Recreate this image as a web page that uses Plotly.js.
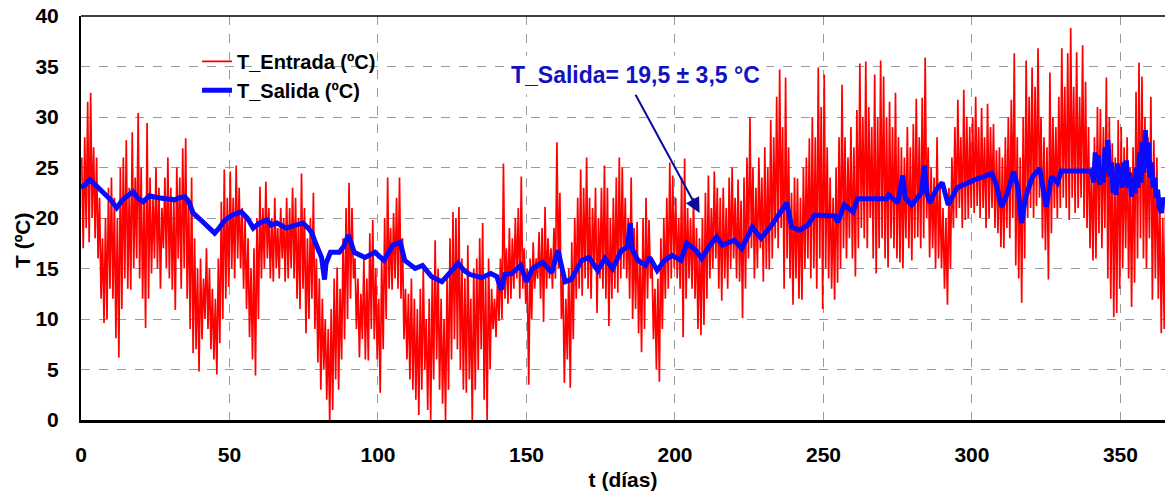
<!DOCTYPE html>
<html>
<head>
<meta charset="utf-8">
<script src="https://cdn.plot.ly/plotly-3.0.1.min.js"></script>
<style>
  html, body { margin: 0; padding: 0; background: #ffffff; }
  #grafico { width: 1165px; height: 493px; }
</style>
</head>
<body>
<div id="grafico"></div>
<script>
// Temperatura de entrada: máximo y mínimo de cada día (día 0 .. 365)
const entradaMax = [
  26, 28, 31.5, 32.4, 27, 26, 22, 18, 20, 23,
  24, 22, 20, 25, 26, 27.7, 23, 28.5, 24, 30.4,
  25, 22, 29.4, 24, 22, 25, 23, 21, 24, 26,
  23, 22, 25, 24, 26.9, 27.9, 22, 24, 18, 15,
  16, 14, 17, 15, 13, 12, 16, 21.6, 24.8, 22,
  24.6, 22, 25.2, 23, 21, 20, 18, 15, 17, 20,
  23.1, 21, 23.6, 21, 20, 22, 19, 21, 20, 22,
  21, 23, 22, 20, 24.4, 21, 18, 20, 22.5, 16,
  14, 12, 10, 9, 11, 14, 15.1, 13, 18, 21,
  23.5, 21, 16, 14, 12.5, 16, 14, 18.5, 19.8, 15,
  12, 16, 20, 24, 19, 20.5, 22, 24, 18, 13,
  12.5, 14, 12, 11, 13, 15, 10, 12, 14, 17.8,
  15, 12, 10, 14, 18, 20.6, 20, 21.1, 16, 14,
  17.3, 12, 15, 16, 18, 19.5, 14, 16, 13, 12,
  14, 16, 25.4, 17, 19, 18, 20, 21, 24.1, 17,
  15, 16, 17.6, 16, 18.6, 19, 21.1, 18, 17, 19,
  27.5, 22.5, 14, 12, 15, 17.6, 20, 22, 24.8, 23,
  26, 22, 21, 23, 20, 23, 25.2, 23, 20, 22,
  24, 26, 25, 22, 20, 24, 19, 19.6, 16, 20,
  22, 19.8, 16, 13, 14, 18, 20, 22, 25.5, 24.2,
  22, 20, 24, 25.9, 21, 20, 22, 19, 18, 20,
  22.5, 24.2, 21, 24.6, 23, 22, 23, 21, 24, 25,
  22, 23.8, 21.7, 24, 26, 30, 25, 23, 26, 24,
  27, 25, 29.7, 28, 32, 34.7, 29, 33.9, 27, 22.5,
  24, 23.9, 22, 25, 26, 27.9, 30, 28, 34.9, 31,
  34.2, 27, 24, 22, 25, 28, 33.2, 28, 26, 29,
  27, 30.7, 35.3, 30, 35.5, 31, 29, 34.2, 30, 35.6,
  34, 30, 31.5, 29, 32.4, 28, 27, 26, 29, 27,
  29.3, 31.8, 28, 31.9, 35.9, 27, 25, 24, 28, 23,
  21, 20, 23, 26, 29, 31.7, 28, 32.7, 30, 29,
  30, 32, 29, 30.9, 28, 31.3, 29, 29.3, 26.7, 27,
  26, 28, 30, 31.7, 36.3, 28, 26, 30, 35.6, 32,
  34.9, 33, 36.8, 30, 28, 27, 34.4, 30, 29, 32,
  36.8, 33, 36.3, 38.8, 33, 36.4, 32, 37.1, 33.5, 29,
  25, 28, 31, 30.8, 29, 33.9, 30, 27.4, 26, 29.7,
  29, 27, 28, 25, 27, 32.5, 35.4, 34, 30, 28,
  32, 27.7, 26, 22, 20, 22
];
const entradaMin = [
  17, 19, 17.6, 20, 18, 16, 12, 9.6, 10, 13,
  12, 8.1, 6.2, 11, 14, 13, 12.9, 15, 16, 14,
  12, 9.1, 12, 14.5, 16, 15, 13, 17, 15, 14,
  12.9, 10.9, 16, 13, 15, 12, 9, 6.6, 7, 4.8,
  8, 10, 9, 7, 6, 4.5, 7.6, 10, 12, 13.2,
  15, 14, 16, 15, 13, 11, 8.2, 6, 4.4, 10,
  14, 15, 16, 14, 13.7, 15, 14, 16, 13.7, 14,
  15, 14, 12, 11, 13, 8.6, 10, 12, 9, 5.7,
  3, 5, 2, -0.2, 1, 4, 3, 6, 8, 10,
  12, 14, 9, 6.2, 8, 6, 5.9, 9, 8, 6,
  2.7, 7, 10, 13, 12.9, 14, 13, 12, 8, 6,
  4, 3, 2, 0.5, 3, 5, 1, 0, 4, 6,
  3, 1.6, 0, 3, 6, 8, 7, 5, 3, 2.7,
  4, 0, 3, 5, 7, 2, 0, 5, 9, 8.2,
  9.8, 10, 12, 11.5, 12, 13, 14, 12, 13, 11.5,
  3.5, 10, 13, 14, 12, 9.7, 13, 14, 13, 14,
  15, 10, 3.7, 6, 3.2, 8, 12, 13, 12.3, 14,
  13, 12, 15, 10.6, 14, 13, 12, 9.3, 12, 13,
  12.6, 14, 15, 14, 12, 10, 11, 8.6, 6.7, 9,
  12, 14, 8, 5, 3.8, 9, 12, 13, 14, 15,
  14, 13, 8.2, 12, 14, 13, 12, 9, 8.4, 9.4,
  12, 14, 15, 16, 13, 11.8, 14, 13, 15, 16,
  14, 13.7, 10.1, 13, 16, 17, 14, 15, 17, 13.7,
  15, 14.9, 16, 18, 17, 19, 13, 16, 14, 11.4,
  14, 12, 11.9, 15, 16, 14, 15, 13, 16, 11,
  15, 14, 13, 11.9, 13.6, 15, 17, 16, 18, 16,
  14.2, 17, 19, 18, 17, 20, 16, 14.5, 17, 18,
  16, 15.1, 18, 17, 16, 15.6, 15, 18, 17, 15.8,
  18, 18.1, 17, 18, 20, 16.1, 17, 15, 16, 15,
  13, 11.4, 15, 19, 20, 21, 19, 19.8, 20, 21,
  20.5, 21.2, 20, 21, 19, 20, 21, 19, 18.5, 17.1,
  17, 19, 18, 20, 15.3, 14, 11.6, 16, 20, 21,
  20, 21.2, 22, 18, 16.8, 13.9, 18.5, 21, 20, 21,
  22, 21, 19.8, 22, 20.5, 21, 22, 20, 19, 17,
  15.8, 16, 18.5, 17, 19, 14, 12, 10.2, 10.6, 13,
  15, 17, 14, 11.2, 13.6, 16, 18, 16, 15, 18,
  11.9, 14, 12, 8.6, 9, 20
];

// Temperatura de salida (día, ºC)
const salidaDias = [
  0, 1.5, 3, 5, 8, 10, 12, 14, 17.5, 19, 21, 23, 26, 29, 31.6, 33, 35, 36.5, 37.7, 40,
  42.4, 45, 46.5, 48.5, 51, 54, 56, 58, 60, 62.6, 64, 66, 69, 72, 74.7, 76.5, 77.8, 79, 81, 82,
  82.5, 84, 87, 88.5, 90, 91, 92, 95.6, 99, 102, 105, 107.5, 109, 112.5, 115, 118, 121.5, 124, 127, 129,
  131, 135, 138, 140, 141.5, 142.7, 145, 148, 150, 152, 155.5, 158.5, 160.6, 163, 165, 168.6, 171, 174, 176.4, 179,
  182, 184, 185, 185.5, 187.5, 190, 191.5, 194, 196.5, 199, 202, 204, 207, 209, 211.5, 214, 216, 220, 222.5, 226,
  229, 232.6, 235, 237.6, 239.3, 242, 244.7, 247, 253.8, 254.8, 257, 260, 261.5, 271.3, 272, 275, 276.7, 277.5, 279.7, 283,
  284, 284.8, 285.8, 288, 290, 292, 295, 298.5, 301, 304, 306.6, 308, 310, 312, 314, 315.5, 316.7, 318, 320.4, 322.8,
  325, 326.8, 328.8, 330, 340.3, 341, 341.5, 342, 342.5, 343, 343.6, 344.2, 344.8, 345.3, 345.8, 346.4, 347, 347.5, 348, 348.5,
  349, 349.5, 350, 350.5, 351, 351.5, 352, 352.5, 353, 353.7, 354.3, 354.8, 355.4, 355.9, 356.4, 356.9, 357.4, 357.9, 358.4, 358.9,
  359.4, 359.9, 360.5, 361, 361.5, 362, 362.5, 363, 363.8, 364.4, 365
];
const salidaT = [
  23.0, 23.3, 23.8, 23.2, 22.3, 21.8, 21.0, 21.8, 22.6, 22.0, 21.6, 22.2, 22.0, 21.9, 21.8, 22.0, 22.1, 21.5, 20.5, 19.9,
  19.3, 18.5, 19.0, 19.8, 20.3, 20.6, 20.0, 19.0, 19.5, 19.8, 19.3, 19.5, 19.0, 19.3, 19.5, 19.0, 18.5, 17.5, 16.1, 13.9,
  15.5, 16.6, 16.6, 17.2, 18.3, 17.5, 16.6, 16.1, 16.6, 15.8, 17.3, 17.6, 15.8, 15.0, 15.3, 14.2, 13.7, 14.5, 15.5, 14.8,
  14.4, 14.1, 14.5, 14.2, 12.9, 14.4, 14.5, 15.3, 13.7, 15.0, 15.6, 14.6, 16.8, 13.7, 13.9, 15.8, 16.1, 14.8, 16.0, 15.0,
  16.8, 17.1, 19.5, 17.0, 15.8, 15.3, 16.1, 14.8, 15.8, 16.3, 15.8, 17.5, 16.8, 16.0, 17.2, 18.1, 17.3, 17.8, 17.0, 19.1,
  18.0, 19.3, 20.3, 21.5, 19.1, 18.8, 19.3, 20.3, 20.2, 19.6, 21.3, 20.6, 21.9, 21.9, 22.3, 21.5, 24.2, 22.0, 21.3, 22.5,
  25.2, 22.5, 21.5, 22.8, 23.5, 21.3, 23.0, 23.5, 23.8, 24.1, 24.4, 23.5, 21.1, 22.5, 24.6, 23.0, 19.5, 22.0, 24.1, 24.9,
  21.1, 24.1, 23.5, 24.65, 24.65, 23.5, 26.5, 24.0, 26.2, 23.3, 25.0, 23.5, 27.0, 24.5, 27.7, 24.1, 25.5, 22.5, 24.5, 22.3,
  25.4, 23.5, 25.0, 23.0, 25.5, 23.2, 25.7, 23.0, 24.5, 22.1, 24.0, 22.5, 25.0, 23.0, 26.5, 23.5, 27.5, 24.5, 28.7, 25.0,
  27.5, 24.0, 25.5, 23.0, 24.0, 22.0, 22.8, 21.2, 20.5, 22.0, 21.5
];

// Ejes
const xTicks = [0, 50, 100, 150, 200, 250, 300, 350];
const yTicks = [0, 5, 10, 15, 20, 25, 30, 35, 40];

// Serie de entrada en zigzag: máximo a media mañana, mínimo por la tarde-noche
const entradaDias = [];
const entradaT = [];
for (let d = 0; d < entradaMax.length; d++) {
  entradaDias.push(d + 0.25);
  entradaT.push(entradaMax[d]);
  if (d < entradaMin.length) {
    entradaDias.push(d + 0.75);
    entradaT.push(entradaMin[d]);
  }
}

const fuente = 'Liberation Sans, Arial, sans-serif';

const trazas = [
  {
    x: entradaDias, y: entradaT, type: 'scatter', mode: 'lines',
    name: 'T_Entrada (ºC)',
    line: { color: '#ff0000', width: 1.7 }
  },
  {
    x: salidaDias, y: salidaT, type: 'scatter', mode: 'lines',
    name: 'T_Salida (ºC)',
    line: { color: '#0a0aff', width: 5 }
  }
];

const ejeComun = {
  showgrid: true, gridcolor: '#9a9a9a', gridwidth: 1, griddash: 'dash',
  zeroline: false, showline: true, linecolor: '#000000',
  tickfont: { family: fuente, size: 21, color: '#000000', weight: 'bold' },
  ticks: ''
};

const layout = {
  width: 1165, height: 493,
  margin: { l: 81, r: 0, t: 16, b: 73 },
  paper_bgcolor: '#ffffff', plot_bgcolor: '#ffffff',
  showlegend: true,
  legend: {
    x: 0.107, y: 0.936, xanchor: 'left', yanchor: 'top',
    bgcolor: 'rgba(0,0,0,0)', borderwidth: 0,
    font: { family: fuente, size: 20, color: '#000000', weight: 'bold' },
    itemwidth: 30
  },
  xaxis: Object.assign({}, ejeComun, {
    range: [0, 365], tickvals: xTicks, linewidth: 3,
    ticklabelstandoff: 14,
    title: { text: 't (días)', standoff: 8,
             font: { family: fuente, size: 21, color: '#000000', weight: 'bold' } }
  }),
  yaxis: Object.assign({}, ejeComun, {
    range: [0, 40], tickvals: yTicks, linewidth: 2,
    ticklabelstandoff: 16
  }),
  shapes: [
    // fondo blanco del recuadro de la leyenda
    { type: 'rect', xref: 'paper', yref: 'paper', layer: 'between',
      x0: (150 - 81) / 1084, x1: (425 - 81) / 1084,
      y0: (420 - 108) / 404, y1: (420 - 43) / 404,
      fillcolor: '#ffffff', line: { width: 0 } },
    // borde superior del área de trazado
    { type: 'line', xref: 'paper', yref: 'paper', x0: 0, x1: 1, y0: 1, y1: 1,
      line: { color: '#000000', width: 1.5 } }
  ],
  annotations: [
    // título del eje vertical
    { xref: 'paper', yref: 'paper', x: (22 - 81) / 1084, y: (420 - 241) / 404,
      xanchor: 'center', yanchor: 'middle', textangle: -90,
      text: 'T (ºC)', showarrow: false,
      font: { family: fuente, size: 21, color: '#000000', weight: 'bold' } },
    { xref: 'x', yref: 'y', x: 208.3, y: 20.5, text: '',
      showarrow: true, axref: 'pixel', ayref: 'pixel', ax: -65, ay: -120,
      arrowhead: 2, arrowsize: 1.5, arrowwidth: 2, arrowcolor: '#0a0a9e' },
    { xref: 'x', yref: 'y', x: 142.4, y: 34.2, xanchor: 'left', yanchor: 'middle',
      text: 'T_Salida= 19,5 ± 3,5 °C', showarrow: false,
      bgcolor: '#ffffff', borderpad: 6,
      font: { family: fuente, size: 23, color: '#1212c0', weight: 'bold' } }
  ]
};

Plotly.newPlot('grafico', trazas, layout, { displayModeBar: false, staticPlot: true });
</script>
</body>
</html>
